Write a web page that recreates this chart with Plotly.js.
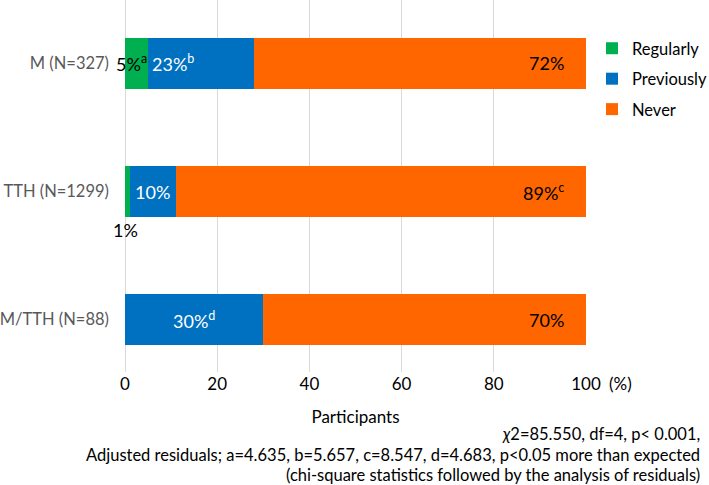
<!DOCTYPE html>
<html>
<head>
<meta charset="utf-8">
<script src="https://cdn.plot.ly/plotly-3.0.1.min.js"></script>
<style>html,body{margin:0;padding:0;background:#fff;}#chart{width:709px;height:485px;}</style>
</head>
<body>
<div id="chart"></div>
<script>
const categories = ['M (N=327)', 'TTH (N=1299)', 'M/TTH (N=88)'];
const seriesNames = ['Regularly', 'Previously', 'Never'];
const regularly = [5, 1, 0];
const previously = [23, 10, 30];
const never = [72, 89, 70];
const supRegularly = ['a', '', ''];
const supPreviously = ['b', '', 'd'];
const supNever = ['', 'c', ''];
const xTicks = [0, 20, 40, 60, 80, 100];
const noteLines = [
  '<i>χ</i>2=85.550, df=4, p< 0.001,',
  'Adjusted residuals; a=4.635, b=5.657, c=8.547, d=4.683, p<0.05 more than expected',
  '(chi-square statistics followed by the analysis of residuals)'
];

const colors = ['#00B050', '#0070C0', '#FF6600'];
const FONT = 'Lato, "Open Sans", sans-serif';
const series = [regularly, previously, never];
const sups = [supRegularly, supPreviously, supNever];

const traces = series.map((vals, k) => ({
  type: 'bar', orientation: 'h', name: seriesNames[k], legendgroup: 'g' + k,
  x: vals, y: categories, width: 0.4,
  marker: {color: colors[k], line: {width: 0}},
  hoverinfo: 'x+name'
}));

function lbl(k, i) {
  const s = sups[k][i];
  return series[k][i] + '%' + (s ? '<sup>' + s + '</sup>' : '');
}
const annotations = [];
categories.forEach((c, i) => {
  const r = regularly[i], p = previously[i], n = never[i];
  if (r > 0) {
    if (r >= 3) {
      annotations.push({x: r, y: c, xref: 'x', yref: 'y', text: lbl(0, i), showarrow: false,
        xanchor: 'right', xshift: 1, font: {size: 18, color: '#000'}});
    } else {
      annotations.push({x: 0, y: c, xref: 'x', yref: 'y', text: lbl(0, i), showarrow: false,
        xanchor: 'center', yshift: -38, font: {size: 18, color: '#000'}});
    }
  }
  if (p > 0) {
    const a = {x: r + p / 2, y: c, xref: 'x', yref: 'y', text: lbl(1, i), showarrow: false,
      xanchor: 'center', font: {size: 18, color: '#fff'}};
    if (r >= 3) { a.x = r; a.xanchor = 'left'; a.xshift = 2; }
    annotations.push(a);
  }
  annotations.push({x: r + p + n, y: c, xref: 'x', yref: 'y', text: lbl(2, i), showarrow: false,
    xanchor: 'right', xshift: -20, font: {size: 18, color: '#000'}});
});

const W = 709, H = 485, L = 125, R = 123, T = 0, B = 113;
const pw = W - L - R, ph = H - T - B;
annotations.push({x: (620 - L) / pw, y: (H - B - 383) / ph, xref: 'paper', yref: 'paper',
  xanchor: 'center', yanchor: 'middle', text: '(%)', showarrow: false,
  font: {size: 17, color: '#000'}});
const noteY = [434, 455, 475];
noteLines.forEach((t, j) => {
  annotations.push({x: (702 - L) / pw, y: (H - B - noteY[j]) / ph, xref: 'paper', yref: 'paper',
    xanchor: 'right', yanchor: 'middle', text: t, showarrow: false,
    font: {size: 16.5, color: '#000'}});
});

const layout = {
  width: W, height: H,
  margin: {l: L, r: R, t: T, b: B, pad: 0, autoexpand: false},
  paper_bgcolor: '#fff', plot_bgcolor: '#fff',
  barmode: 'stack',
  font: {family: FONT, color: '#000'},
  showlegend: true,
  legend: {x: (592 - L) / pw, xanchor: 'left', y: (ph - 31) / ph, yanchor: 'top', traceorder: 'grouped',
    font: {size: 16.5, color: '#000'}, bgcolor: 'rgba(0,0,0,0)', tracegroupgap: 6, itemwidth: 30},
  xaxis: {range: [0, 100], tickvals: xTicks, ticktext: xTicks.map(String),
    showgrid: true, gridcolor: '#D9D9D9', gridwidth: 1, zeroline: true, zerolinecolor: '#D9D9D9',
    showline: false, ticks: '', tickfont: {size: 17, color: '#000'}, automargin: false,
    title: {text: 'Participants', font: {size: 17, color: '#000'}, standoff: 18},
    fixedrange: true},
  yaxis: {type: 'category', categoryorder: 'array', categoryarray: categories.slice().reverse(),
    range: [-0.41, 2.496], showgrid: false, zeroline: false, showline: false, ticks: '',
    tickfont: {size: 16.5, color: '#595959'}, ticklabelstandoff: 15, automargin: false, fixedrange: true},
  annotations: annotations
};

Plotly.newPlot('chart', traces, layout, {displayModeBar: false, staticPlot: true});
</script>
</body>
</html>
